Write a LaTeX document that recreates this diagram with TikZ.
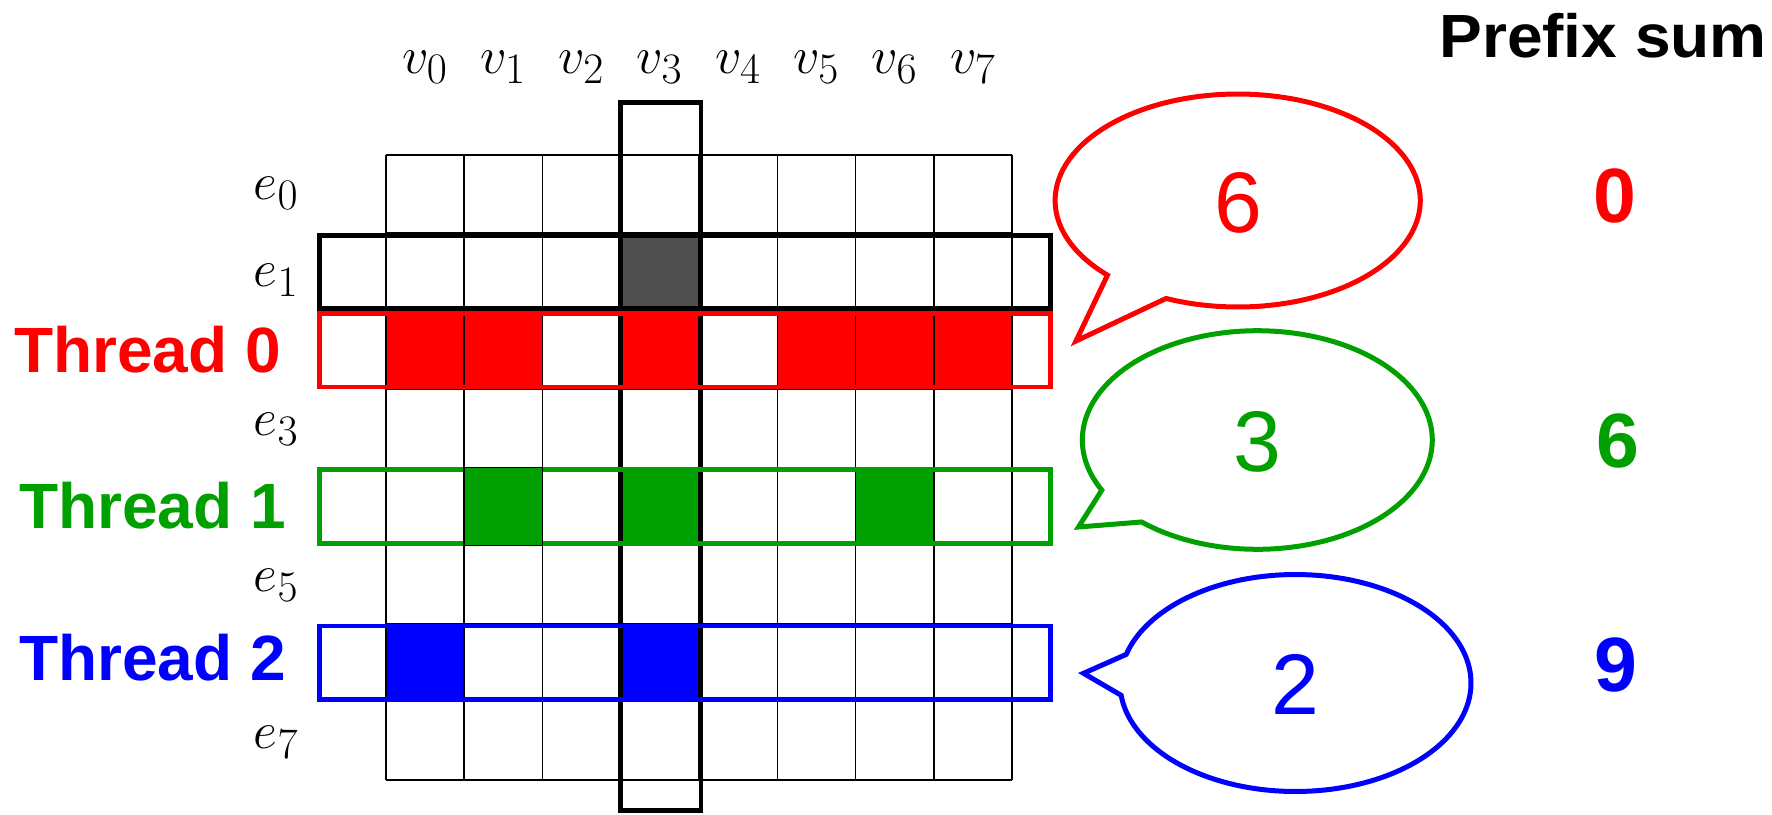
\documentclass[tikz,border=0pt]{standalone}
\usepackage{fontspec}
\usepackage{graphicx}
\newfontfamily\arialf{Liberation Sans}
\definecolor{myred}{RGB}{255,0,0}
\definecolor{mygreen}{RGB}{0,160,0}
\definecolor{myblue}{RGB}{0,0,255}
\definecolor{mygray}{RGB}{80,80,80}
\newcommand{\mlab}[1]{\scalebox{1.05}{\Huge$#1$}}
\begin{document}
\begin{tikzpicture}[x=0.5pt,y=-0.5pt,
  gridline/.style={line width=0.75pt,draw=black},
  rowbox/.style={line width=2.4pt},
  mathlab/.style={inner sep=0pt},
  thlab/.style={inner sep=0pt,anchor=base west,font=\arialf\bfseries\fontsize{32}{36}\selectfont},
  bubnum/.style={inner sep=0pt,font=\arialf\fontsize{43}{48}\selectfont},
  psnum/.style={inner sep=0pt,font=\arialf\bfseries\fontsize{38.5}{42}\selectfont},
  bubble/.style={line width=2.5pt,fill=white,line join=miter}
]
\useasboundingbox (0,0) rectangle (1772,814);
\def\gx{385.8}
\def\gy{155}
\def\cw{78.3}
\def\ch{78.1}
% cell fills
\fill[mygray] ({\gx+3*\cw},{\gy+1*\ch}) rectangle ++(\cw,\ch);
\foreach \c in {0,1,3,5,6,7}
  \fill[myred] ({\gx+\c*\cw},{\gy+2*\ch}) rectangle ++(\cw,\ch);
\foreach \c in {1,3,6}
  \fill[mygreen] ({\gx+\c*\cw},{\gy+4*\ch}) rectangle ++(\cw,\ch);
\foreach \c in {0,3}
  \fill[myblue] ({\gx+\c*\cw},{\gy+6*\ch}) rectangle ++(\cw,\ch);
% grid
\foreach \i in {0,...,8} {
  \draw[gridline] ({\gx+\i*\cw},\gy) -- ({\gx+\i*\cw},{\gy+8*\ch});
  \draw[gridline] (\gx,{\gy+\i*\ch}) -- ({\gx+8*\cw},{\gy+\i*\ch});
}
% v3 column box
\draw[rowbox] (620.3,102.5) rectangle (701,810.5);
% row boxes
\draw[rowbox,black]  (319.7,{\gy+1*\ch+2.4}) rectangle (1050.3,{\gy+2*\ch-2.4});
\draw[rowbox,myred]  (319.7,{\gy+2*\ch+2.4}) rectangle (1050.3,{\gy+3*\ch-2.4});
\draw[rowbox,mygreen](319.7,{\gy+4*\ch+2.4}) rectangle (1050.3,{\gy+5*\ch-2.4});
\draw[rowbox,myblue] (319.7,{\gy+6*\ch+2.4}) rectangle (1050.3,{\gy+7*\ch-2.4});
\draw[gridline] ({\gx+1*\cw},{\gy+4*\ch}) rectangle ++(\cw,\ch);
% column labels
\foreach \k in {0,...,7}
  \node[mathlab,anchor=base] (v\k) at ({\gx+(\k+0.5)*\cw},73.3) {\mlab{v_{\k}}};
% row labels
\node[mathlab,anchor=base east] (e0) at (299,199.3) {\mlab{e_0}};
\node[mathlab,anchor=base east] (e1) at (299,286.7) {\mlab{e_1}};
\node[mathlab,anchor=base east] (e3) at (299,435) {\mlab{e_3}};
\node[mathlab,anchor=base east] (e5) at (299,591.7) {\mlab{e_5}};
\node[mathlab,anchor=base east] (e7) at (299,748.3) {\mlab{e_7}};
\node[thlab,text=myred]   (t0) at (13.7,372.7) {Thread 0};
\node[thlab,text=mygreen] (t1) at (18.7,528.3) {Thread 1};
\node[thlab,text=myblue]  (t2) at (18.7,680) {Thread 2};
% bubbles
\draw[bubble,draw=myred] plot[domain=135.5:473.1,samples=150] ({1237.7+182.6*cos(\x)},{200.5+106.5*sin(\x)}) -- (1076,341) -- cycle;
\draw[bubble,draw=mygreen] plot[domain=152.7:491.4,samples=150] ({1257.3+175*cos(\x)},{440+109.3*sin(\x)}) -- (1078.5,527) -- cycle;
\draw[bubble,draw=myblue] plot[domain=195.3:533.5,samples=150] ({1295.5+175.5*cos(\x)},{683+108.5*sin(\x)}) -- (1083.5,673.3) -- cycle;
\node[bubnum,text=myred]   (b0) at (1238,202.5) {6};
\node[bubnum,text=mygreen] (b1) at (1257,441.7) {3};
\node[bubnum,text=myblue]  (b2) at (1295.6,684) {2};
% prefix sums
\node[inner sep=0pt,anchor=base west,font=\arialf\bfseries\fontsize{30.5}{34}\selectfont] (ps) at (1439,57) {\scalebox{1.05}[1]{Prefix sum}};
\node[psnum,text=myred]   (p0) at (1615,195.5) {0};
\node[psnum,text=mygreen] (p1) at (1618,440.5) {6};
\node[psnum,text=myblue]  (p2) at (1615.6,665) {9};
\end{tikzpicture}
\end{document}
